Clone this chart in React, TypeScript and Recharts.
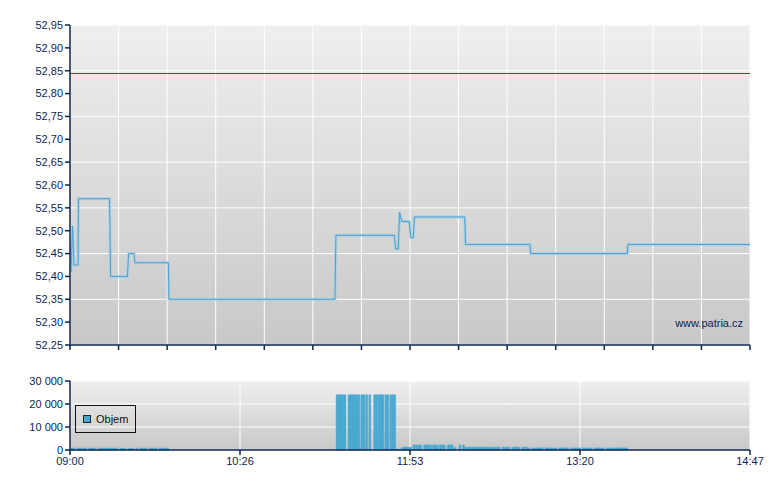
import { LineChart, Line, BarChart, Bar, XAxis, YAxis, CartesianGrid, ReferenceLine } from 'recharts'

// session 09:00 -> 14:47, x values are minutes after the open
const SESSION_MIN = 347
const NAVY = '#0d2452'
const BAR = '#48a8d0'

const timeLabels = ['09:00', '10:26', '11:53', '13:20', '14:47']
const priceTicks = [52.25, 52.3, 52.35, 52.4, 52.45, 52.5, 52.55, 52.6, 52.65, 52.7, 52.75, 52.8, 52.85, 52.9, 52.95]
const volTicks = [0, 10000, 20000, 30000]
const prevClose = 52.845

const priceTime = [0.5, 1.3, 2.0, 4.1, 4.3, 20.2, 20.7, 29.3, 29.9, 32.7, 33.1, 50.2, 50.5, 135.2, 135.7,
  165.5, 166.2, 167.5, 168.2, 169.3, 173.1, 173.9, 175.2, 175.7, 201.4, 201.9, 234.7, 235.1, 284.4, 284.7, 347]
const priceValue = [52.41, 52.51, 52.425, 52.425, 52.57, 52.57, 52.40, 52.40, 52.45, 52.45, 52.43, 52.43, 52.35, 52.35, 52.49,
  52.49, 52.46, 52.46, 52.54, 52.52, 52.52, 52.485, 52.485, 52.53, 52.53, 52.47, 52.47, 52.45, 52.45, 52.47, 52.47]

// volume trades (minute, shares)
const morningTimes = [1, 2, 4, 5, 6, 7, 8, 10, 11, 12, 13, 15, 16, 17, 18, 19, 20, 21, 22, 23, 24,
  26, 27, 28, 30, 31, 32, 34, 36, 37, 38, 39, 41, 42, 43, 44, 46, 47, 48, 49, 50]
const morningVol = [800, 700, 800, 800, 700, 800, 800, 700, 800, 800, 700, 800, 800, 800, 700, 800, 800, 800, 800, 700, 800,
  700, 800, 650, 700, 800, 650, 700, 800, 800, 800, 700, 800, 800, 700, 800, 800, 800, 700, 800, 650]

const blockTimes = [136.3, 137.3, 138.3, 139.3, 140.3, 142.4, 143.4, 144.4, 145.4, 146.4, 147.4, 148.9, 150.0,
  151.4, 153.0, 155.5, 156.5, 157.7, 158.7, 159.7, 161.2, 162.2, 163.7, 164.7, 165.7]
const blockVol = [24000, 24000, 24000, 24000, 24000, 24000, 24000, 24000, 24000, 24000, 24000, 24000, 24000,
  24000, 24000, 24000, 24000, 24000, 24000, 24000, 24000, 24000, 24000, 24000, 24000]

const afternoonTimes = [166.8, 167.8, 168.8, 169.8, 170.8, 171.8, 172.8, 173.8, 175.5, 176.8, 178, 179,
  181, 182, 183, 184, 185.5, 186.5, 187.5, 189, 190, 191, 193, 194, 195, 196.5, 199, 200.8,
  202, 203, 204, 205, 206, 207, 208, 209, 210, 211, 212, 213, 214, 215, 216, 217, 218, 219,
  221, 222, 223, 224, 226, 227, 228, 229, 231, 232, 233, 234,
  236, 237, 238, 239, 240, 241, 243, 244, 245, 246, 247, 248, 250, 251, 252, 253, 254, 256, 257, 258, 259, 260,
  262, 263, 264, 265, 266, 268, 269, 270, 271, 272, 274, 275, 276, 277, 278, 279, 280, 281, 282, 283, 284]
const afternoonVol = [400, 400, 400, 1150, 1150, 1300, 1150, 1150, 2200, 2200, 2200, 2200,
  2200, 2200, 2200, 2200, 2200, 2200, 2000, 2200, 2200, 2200, 2100, 2200, 2200, 1100, 2200, 2200,
  1150, 1150, 1300, 1150, 1150, 1150, 1300, 1150, 1150, 1150, 1150, 1300, 1150, 1150, 1150, 1150, 1300, 1150,
  1300, 1150, 1150, 1300, 1150, 1150, 1300, 1150, 1150, 1300, 1150, 900,
  900, 900, 900, 900, 900, 900, 900, 900, 900, 900, 900, 900, 900, 900, 900, 900, 900, 900, 900, 900, 900, 900,
  900, 900, 900, 700, 900, 900, 900, 900, 900, 900, 900, 900, 700, 900, 900, 900, 900, 900, 900, 900, 900]

const priceData = priceTime.map((t, i) => ({ t, p: priceValue[i] }))
const volumeData = [
  ...morningTimes.map((t, i) => ({ t, v: morningVol[i] })),
  ...blockTimes.map((t, i) => ({ t, v: blockVol[i] })),
  ...afternoonTimes.map((t, i) => ({ t, v: afternoonVol[i] })),
]

const priceXTicks = Array.from({ length: 15 }, (_, i) => (i * SESSION_MIN) / 14)
const volXTicks = timeLabels.map((_, i) => (i * SESSION_MIN) / 4)

const fmtPrice = (v: number) => v.toFixed(2).replace('.', ',')
const fmtVol = (v: number) => (v === 0 ? '0' : `${v / 1000} 000`)
const fmtTime = (v: number) => timeLabels[Math.round(v / (SESSION_MIN / 4))]

const axisLine = { stroke: NAVY, strokeWidth: 1.5 }
const tickStyle = { fill: NAVY, fontSize: 11 }

export default function App() {
  return (
    <div style={{ position: 'absolute', left: 0, top: 0, width: 780, height: 490, background: '#fff',
      fontFamily: '"Liberation Sans", Arial, sans-serif' }}>
      <LineChart width={780} height={360} data={priceData} margin={{ top: 25, right: 30, bottom: 0, left: 10 }}>
        <defs>
          <linearGradient id="bgPrice" x1="0" y1="0" x2="0" y2="1">
            <stop offset="0%" stopColor="#efefef" />
            <stop offset="100%" stopColor="#c8c8c8" />
          </linearGradient>
        </defs>
        <CartesianGrid stroke="#fff" fill="url(#bgPrice)" fillOpacity={1} />
        <XAxis dataKey="t" type="number" domain={[0, SESSION_MIN]} ticks={priceXTicks} tickFormatter={() => ''}
          height={15} tickSize={5} axisLine={axisLine} tickLine={axisLine} tick={tickStyle} />
        <YAxis type="number" domain={[52.25, 52.95]} ticks={priceTicks} tickFormatter={fmtPrice} width={60}
          tickSize={5} axisLine={axisLine} tickLine={axisLine} tick={tickStyle} />
        <ReferenceLine y={prevClose} stroke="#a82828" strokeWidth={1} shapeRendering="crispEdges" />
        <Line dataKey="p" type="linear" stroke="#a3cfe6" strokeWidth={3} strokeOpacity={0.8} dot={false} isAnimationActive={false} />
        <Line dataKey="p" type="linear" stroke="#4f9fcc" strokeWidth={1} dot={false} isAnimationActive={false} />
        <text x={743} y={327} textAnchor="end" fontSize={11} fill={NAVY}>www.patria.cz</text>
      </LineChart>
      <BarChart width={780} height={130} data={volumeData} margin={{ top: 21, right: 30, bottom: 10, left: 10 }}>
        <defs>
          <linearGradient id="bgVol" x1="0" y1="0" x2="0" y2="1">
            <stop offset="0%" stopColor="#efefef" />
            <stop offset="100%" stopColor="#c8c8c8" />
          </linearGradient>
        </defs>
        <CartesianGrid stroke="#fff" fill="url(#bgVol)" fillOpacity={1} />
        <XAxis dataKey="t" type="number" domain={[0, SESSION_MIN]} ticks={volXTicks} tickFormatter={fmtTime}
          height={30} tickSize={5} axisLine={axisLine} tickLine={axisLine} tick={tickStyle} />
        <YAxis type="number" domain={[0, 30000]} ticks={volTicks} tickFormatter={fmtVol} width={60}
          tickSize={5} axisLine={axisLine} tickLine={axisLine} tick={tickStyle} />
        <Bar dataKey="v" fill={BAR} stroke={BAR} strokeWidth={0.5} barSize={1.9} isAnimationActive={false} />
      </BarChart>
      <div style={{ position: 'absolute', left: 75, top: 405, width: 59, height: 26, border: '1px solid #111',
        display: 'flex', alignItems: 'center', fontSize: 11, color: '#111' }}>
        <span style={{ width: 6, height: 6, background: BAR, border: '1px solid #222', marginLeft: 7, marginRight: 5 }} />
        Objem
      </div>
    </div>
  )
}
